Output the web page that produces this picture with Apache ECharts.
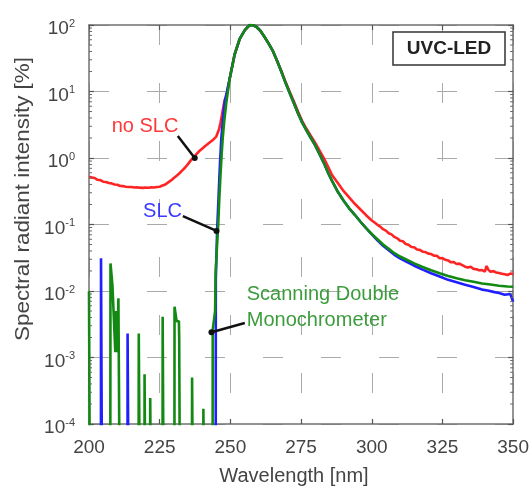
<!DOCTYPE html>
<html>
<head>
<meta charset="utf-8">
<script src="https://cdn.jsdelivr.net/npm/echarts@6/dist/echarts.min.js"></script>
<style>html,body{margin:0;padding:0;background:#fff}#c{width:532px;height:489px}</style>
</head>
<body>
<div id="c"></div>
<script>
// ---- data (wavelength in nm, spectral radiant intensity in %) ----
const xTicks = [200, 225, 250, 275, 300, 325, 350];
const yExponents = [-4, -3, -2, -1, 0, 1, 2];

const wlRed = [200,201,202,203,204,205,206,207,208,209,
  210,211,212,213,214,215,216,217,218,219,
  220,221,222,223,224,225,226,227,228,229,
  230,231,232,233,234,235,236,237,238,239,
  240,241,242,243,244,245,
  246,246.5,247,247.5,248,
  248.6,249.8,251.5,253.3,255.1,256.8,258,259.2,260.6,262.1,263.6,265.1,266.5,268,269.5,271,272.5,273.9,275.4,
  276.9,278.3,279.8,281.5,283.3,284.7,286,
  288,290,292,294,296,298,
  300,301,302,303,304,305,306,307,308,309,310,311,312,313,314,315,316,317,318,319,
  320,321,322,323,324,325,326,327,328,329,330,331,332,333,334,335,336,337,338,339,
  340,340.6,341.2,342,343,344,345,346,347,348,349,350];
const valRed = [0.52,0.51,0.50,0.47,0.465,0.44,0.435,0.42,0.415,0.40,
  0.395,0.38,0.378,0.37,0.366,0.367,0.36,0.362,0.358,0.355,
  0.36,0.357,0.362,0.36,0.366,0.37,0.385,0.40,0.43,0.46,
  0.50,0.54,0.59,0.65,0.72,0.81,0.92,1.02,1.14,1.27,
  1.38,1.5,1.62,1.75,1.9,2.1,
  2.7,3.4,4.4,5.8,7.5,
  8.5,16,36,62,84,100,99,94,82,66,52,40,29,20.5,14,9.8,7,5.0,3.6,
  2.75,2.2,1.75,1.3,0.95,0.72,0.55,
  0.42,0.32,0.255,0.205,0.168,0.138,
  0.115,0.107,0.099,0.093,0.085,0.081,0.074,0.071,0.065,0.062,0.057,0.056,0.051,0.0495,0.046,0.0455,0.042,0.0415,0.039,0.0385,
  0.0365,0.036,0.034,0.0338,0.031,0.0312,0.0295,0.0288,0.027,0.0272,0.0255,0.0258,0.0245,0.0232,0.0225,0.0231,0.0215,0.0212,0.0205,0.0207,
  0.0195,0.0238,0.021,0.0195,0.0199,0.019,0.0186,0.0182,0.0178,0.0174,0.0183,0.018];

const wlBlue = [204.2,204.25,204.65,204.7, 213.6,213.65,214.05,214.1,
  244.8,244.85,245.05,245.3,245.8,246.3,246.8,247.4,248.0,
  248.6,249.8,251.5,253.3,255.1,256.8,258,259.2,260.6,262.1,263.6,265.1,266.5,268,269.5,271,272.5,273.9,275.4,276.9,278.3,279.8,281.5,283.3,284.7,286,
  288,290,292,294,296,298,300,302,304,306,308,310,312,
  315,318,321,324,327,330,333,336,339,
  341,343,345,347,349,350];
const valBlue = [1e-6,0.031,0.031,1e-6, 1e-6,0.0023,0.0023,1e-6,
  1e-6,0.015,0.03,0.08,0.25,0.8,2.0,4.0,7.0,
  7.2,16,36,62,84,100,99,94,82,66,52,40,29,20,13.5,9.4,6.6,4.7,3.4,2.6,2.05,1.6,1.15,0.8,0.58,0.45,
  0.31,0.23,0.175,0.14,0.11,0.088,0.071,0.058,0.048,0.041,0.035,0.031,0.028,
  0.024,0.021,0.0185,0.0165,0.0147,0.0135,0.0124,0.0115,0.0105,
  0.0102,0.0097,0.0093,0.0088,0.009,0.0069];

const wlGreen = [200.0,200.35,200.4,
  207.5,207.6,208.2,208.3,208.8,209.3,209.6,210.0,210.4,210.9,211.0,
  217.5,217.6,218.0,218.1, 219.6,219.65,220.0,220.05, 221.6,221.65,222.0,222.05,
  226.0,226.05,226.45,226.5,
  230.2,230.25,230.9,231.0,231.8,231.9,232.2,232.25,
  236.4,236.45,236.85,236.9, 240.4,240.45,240.85,240.9,
  243.7,243.75,244.1,244.6,244.8,245.3,245.7,246.1,246.5,246.9,247.3,247.8,
  248.6,249.8,251.5,253.3,255.1,256.8,258,259.2,260.6,262.1,263.6,265.1,266.5,268,269.5,271,272.5,273.9,275.4,276.9,278.3,279.8,281.5,283.3,284.7,286,
  288,290,292,294,296,298,300,302,304,306,308,310,312,
  315,318,321,324,327,330,333,336,339,342,345,348,350];
const valGreen = [0.0099,0.0099,1e-6,
  1e-6,0.026,0.026,0.012,0.012,0.0012,0.005,0.0012,0.0078,0.0078,1e-6,
  1e-6,0.0023,0.0023,1e-6, 1e-6,0.00056,0.00056,1e-6, 1e-6,0.000245,0.000245,1e-6,
  1e-6,0.0041,0.0041,1e-6,
  1e-6,0.0058,0.0058,0.0035,0.0035,0.0019,0.0019,1e-6,
  1e-6,0.0005,0.0005,1e-6, 1e-6,0.00017,0.00017,1e-6,
  1e-6,0.0026,0.0026,0.005,0.02,0.05,0.1,0.25,0.55,1.1,2.0,3.5,
  7,16,36,62,84,100,99,94,82,66,52,40,29,20,13.5,9.4,6.6,4.7,3.4,2.6,2.05,1.6,1.15,0.8,0.58,0.45,
  0.31,0.23,0.175,0.14,0.11,0.088,0.072,0.06,0.05,0.043,0.037,0.033,0.03,
  0.026,0.023,0.0205,0.0185,0.0168,0.0155,0.0145,0.0138,0.013,0.0125,0.012,0.0117,0.0116];

// annotation texts anchored in data space [wavelength, intensity]
const noteTexts = ['no SLC', 'SLC', 'Scanning Double\nMonochrometer'];
const noteAnchors = [[219.8, 3.0], [226.0, 0.157], [255.8, 0.0057]];
const arrowFrom = [[231.4, 2.14], [233.2, 0.134], [255.1, 0.0033]];
const arrowTo = [[237.4, 1.0], [245.1, 0.080], [243.3, 0.0024]];
const minorFactors = [2, 3, 4, 5, 6, 7, 8, 9];

// ---- build ----
const FONT = '"Liberation Sans", Arial, Helvetica, sans-serif';
const zip = (a, b) => a.map((v, i) => [v, b[i]]);
const minorData = [];
yExponents.slice(0, -1).forEach(e => minorFactors.forEach(f => minorData.push([200, f * Math.pow(10, e)])));

const axisLineStyle = { color: '#707070', width: 1.5 };
const gridDash = { color: '#aaa', width: 1, type: [20, 38] };
const tickStyle = { inside: true, length: 5, lineStyle: { color: '#555', width: 1.2 } };

const chart = echarts.init(document.getElementById('c'), null, { renderer: 'canvas' });
chart.setOption({
  animation: false,
  grid: { left: 89, right: 18, top: 25, bottom: 65 },
  xAxis: [{
    type: 'value', min: xTicks[0], max: xTicks[xTicks.length - 1], interval: 25,
    axisLine: { onZero: false, lineStyle: axisLineStyle },
    axisTick: tickStyle,
    axisLabel: { color: '#444', fontSize: 19, fontFamily: FONT, margin: 14 },
    splitLine: { show: true, lineStyle: gridDash }
  }, {
    type: 'value', position: 'top', min: xTicks[0], max: xTicks[xTicks.length - 1], interval: 25,
    axisLine: { onZero: false, lineStyle: axisLineStyle },
    axisTick: tickStyle,
    axisLabel: { show: false }, splitLine: { show: false }
  }],
  yAxis: [{
    type: 'log', logBase: 10, min: Math.pow(10, yExponents[0]), max: Math.pow(10, yExponents[yExponents.length - 1]),
    axisLine: { onZero: false, lineStyle: axisLineStyle },
    axisTick: tickStyle,
    axisLabel: {
      margin: 14, padding: [8, 0, 0, 0],
      formatter: v => '{b|10}{s|' + Math.round(Math.log10(v)) + '}',
      rich: {
        b: { fontSize: 19, color: '#444', fontFamily: FONT, lineHeight: 22 },
        s: { fontSize: 11, color: '#444', fontFamily: FONT, verticalAlign: 'top', lineHeight: 11 }
      }
    },
    splitLine: { show: true, lineStyle: gridDash }
  }, {
    type: 'log', logBase: 10, position: 'right', min: Math.pow(10, yExponents[0]), max: Math.pow(10, yExponents[yExponents.length - 1]),
    axisLine: { onZero: false, lineStyle: axisLineStyle },
    axisTick: tickStyle,
    axisLabel: { show: false }, splitLine: { show: false }
  }],
  series: [
    { name: 'no SLC', type: 'line', data: zip(wlRed, valRed), showSymbol: false, clip: true,
      lineStyle: { color: '#ff2424', width: 2.6 }, z: 2 },
    { name: 'SLC', type: 'line', data: zip(wlBlue, valBlue), showSymbol: false, clip: true,
      lineStyle: { color: '#1f1fff', width: 2.6 }, z: 3 },
    { name: 'Scanning Double Monochrometer', type: 'line', data: zip(wlGreen, valGreen), showSymbol: false, clip: true,
      lineStyle: { color: '#128a12', width: 2.6 }, z: 4 },
    { type: 'custom', data: minorData, silent: true, z: 5, clip: false,
      renderItem: (params, api) => {
        const y = api.coord([200, api.value(1)])[1];
        const cs = params.coordSys;
        const st = { stroke: '#666', lineWidth: 1 };
        return { type: 'group', children: [
          { type: 'line', shape: { x1: cs.x, y1: y, x2: cs.x + 3, y2: y }, style: st },
          { type: 'line', shape: { x1: cs.x + cs.width - 3, y1: y, x2: cs.x + cs.width, y2: y }, style: st }
        ] };
      } }
  ]
});

// annotations positioned through the chart's own scales
const noteColors = ['#ff3838', '#3a3aff', '#3c9c3c'];
const noteAlign = ['center', 'center', 'left'];
const px = p => chart.convertToPixel({ gridIndex: 0 }, p);
const graphics = [];
noteTexts.forEach((t, i) => {
  const a = px(noteAnchors[i]), f = px(arrowFrom[i]), e = px(arrowTo[i]);
  graphics.push({ type: 'line', shape: { x1: f[0], y1: f[1], x2: e[0], y2: e[1] }, style: { stroke: '#111', lineWidth: 2.5 }, z: 10 });
  graphics.push({ type: 'circle', shape: { cx: e[0], cy: e[1], r: 3 }, style: { fill: '#111' }, z: 10 });
  graphics.push({ type: 'text', x: a[0], y: a[1], z: 11,
    style: { text: t, fill: noteColors[i], font: '20px ' + FONT, textAlign: noteAlign[i], textVerticalAlign: 'middle', lineHeight: 26 } });
});
// UVC-LED label box
graphics.push({ type: 'rect', shape: { x: 393, y: 32, width: 112, height: 33 }, style: { fill: '#fff', stroke: '#333', lineWidth: 1.5 }, z: 10 });
graphics.push({ type: 'text', x: 449, y: 48.5, z: 11, style: { text: 'UVC-LED', fill: '#222', font: 'bold 19px ' + FONT, textAlign: 'center', textVerticalAlign: 'middle' } });
// axis titles
graphics.push({ type: 'text', x: 23, y: 199, rotation: Math.PI / 2, scaleX: 1.12, z: 11,
  style: { text: 'Spectral radiant intensity [%]', fill: '#444', font: '20px ' + FONT, textAlign: 'center', textVerticalAlign: 'middle' } });
graphics.push({ type: 'text', x: 294, y: 476, z: 11,
  style: { text: 'Wavelength [nm]', fill: '#444', font: '20px ' + FONT, textAlign: 'center', textVerticalAlign: 'middle' } });
chart.setOption({ graphic: { elements: graphics } });
</script>
</body>
</html>
